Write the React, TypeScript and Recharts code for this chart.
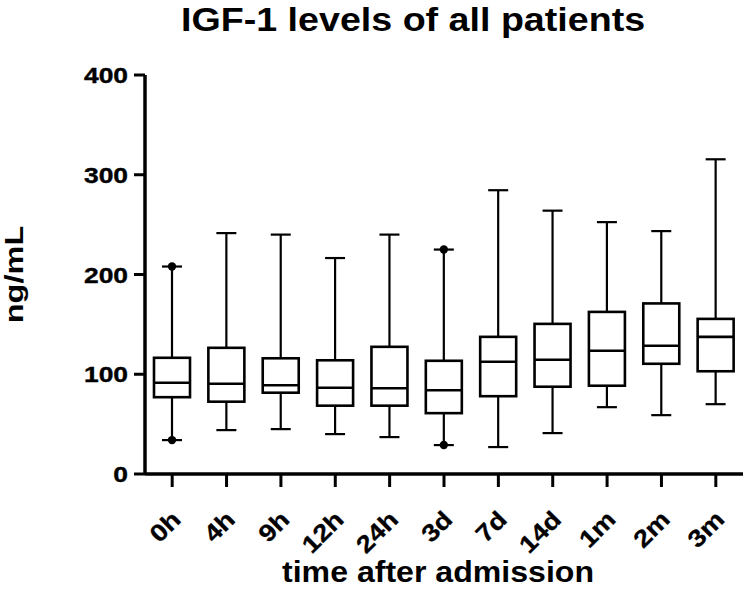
import React from "react"
import { ComposedChart, Bar, XAxis, YAxis } from "recharts"

const categories = ["0h", "4h", "9h", "12h", "24h", "3d", "7d", "14d", "1m", "2m", "3m"]
const whiskerLow = [34, 44, 45, 40, 37, 29, 27, 41, 67, 59, 70]
const q1 = [77, 72.5, 81.5, 68.5, 68.5, 61, 78, 87.5, 88.5, 110.5, 103]
const median = [91.5, 90.5, 89, 86.5, 86, 84, 112.5, 114.5, 123.5, 128.5, 137.5]
const q3 = [116.5, 126.5, 116, 114, 127.5, 113.5, 137.5, 150.5, 162.5, 171, 155.5]
const whiskerHigh = [208, 241.5, 240, 216.5, 240, 225, 284.5, 264, 252.5, 243.5, 315.5]
const dotLow = [34, null, null, null, null, 29, null, null, null, null, null]
const dotHigh = [208, null, null, null, null, 225, null, null, null, null, null]
const yTicks = [0, 100, 200, 300, 400]

const data = categories.map((t, i) => ({
  t,
  range: [whiskerLow[i], whiskerHigh[i]],
  q1: q1[i],
  median: median[i],
  q3: q3[i],
  dotLow: dotLow[i],
  dotHigh: dotHigh[i],
}))

const FONT = "'Liberation Sans', Arial, sans-serif"

function BoxShape(props: any) {
  const { x, y, width, height, payload } = props
  const top = Math.min(y, y + height)
  const bot = Math.max(y, y + height)
  const [lo, hi] = payload.range
  const py = (v: number) => bot - ((v - lo) / (hi - lo)) * (bot - top)
  const cx = x + width / 2
  const cap = 10
  return (
    <g stroke="#000" fill="none">
      <line x1={cx} x2={cx} y1={py(hi)} y2={py(payload.q3)} strokeWidth={2.2} />
      <line x1={cx} x2={cx} y1={py(payload.q1)} y2={py(lo)} strokeWidth={2.2} />
      <line x1={cx - cap} x2={cx + cap} y1={py(hi)} y2={py(hi)} strokeWidth={2.2} />
      <line x1={cx - cap} x2={cx + cap} y1={py(lo)} y2={py(lo)} strokeWidth={2.2} />
      <rect x={x} y={py(payload.q3)} width={width} height={py(payload.q1) - py(payload.q3)} fill="#fff" strokeWidth={2.6} />
      <line x1={x} x2={x + width} y1={py(payload.median)} y2={py(payload.median)} strokeWidth={2.6} />
      {payload.dotHigh != null && <circle cx={cx} cy={py(payload.dotHigh)} r={4.2} fill="#000" stroke="none" />}
      {payload.dotLow != null && <circle cx={cx} cy={py(payload.dotLow)} r={4.2} fill="#000" stroke="none" />}
    </g>
  )
}

function YTick(props: any) {
  const { x, y, payload } = props
  return (
    <text transform={`translate(${x},${y + 8}) scale(1.2,1)`} textAnchor="end" fontFamily={FONT} fontWeight="bold" fontSize={22} fill="#000" stroke="#000" strokeWidth={0.4}>
      {payload.value}
    </text>
  )
}

function XTick(props: any) {
  const { x, y, payload } = props
  return (
    <text transform={`translate(${x + 10},${y + 32}) rotate(-45) scale(1.15,1)`} textAnchor="end" fontFamily={FONT} fontWeight="bold" fontSize={24} fill="#000" stroke="#000" strokeWidth={0.3}>
      {payload.value}
    </text>
  )
}

function XLabel(props: any) {
  const vb = props.viewBox
  return (
    <text transform={`translate(${vb.x + vb.width / 2 - 6},${vb.y + 108}) scale(1.07,1)`} textAnchor="middle" fontFamily={FONT} fontWeight="bold" fontSize={30} fill="#000">
      time after admission
    </text>
  )
}

function YLabel(props: any) {
  const vb = props.viewBox
  return (
    <text transform={`translate(${vb.x + 23},${vb.y + vb.height / 2}) rotate(-90) scale(1.25,1)`} textAnchor="middle" fontFamily={FONT} fontWeight="bold" fontSize={26} fill="#000">
      ng/mL
    </text>
  )
}

export default function App() {
  return (
    <div style={{ position: "absolute", left: 0, top: 0, width: 743, height: 590, background: "#fff" }}>
      <div
        style={{
          position: "absolute",
          left: 181,
          top: 2,
          fontFamily: FONT,
          fontWeight: "bold",
          fontSize: 33,
          lineHeight: "36px",
          whiteSpace: "nowrap",
          transform: "scaleX(1.14)",
          transformOrigin: "left top",
        }}
      >
        IGF-1 levels of all patients
      </div>
      <ComposedChart width={743} height={590} data={data} margin={{ top: 75, right: 0, bottom: 0, left: 0 }}>
        <XAxis
          dataKey="t"
          height={116}
          tickSize={13}
          tick={<XTick />}
          interval={0}
          axisLine={{ stroke: "#000", strokeWidth: 3.5 }}
          tickLine={{ stroke: "#000", strokeWidth: 3 }}
          label={<XLabel />}
        />
        <YAxis
          width={145}
          domain={[0, 400]}
          ticks={yTicks}
          tickSize={11}
          tickMargin={6}
          tick={<YTick />}
          axisLine={{ stroke: "#000", strokeWidth: 3.5 }}
          tickLine={{ stroke: "#000", strokeWidth: 3 }}
          label={<YLabel />}
        />
        <Bar dataKey="range" barSize={36} shape={<BoxShape />} isAnimationActive={false} />
      </ComposedChart>
    </div>
  )
}
